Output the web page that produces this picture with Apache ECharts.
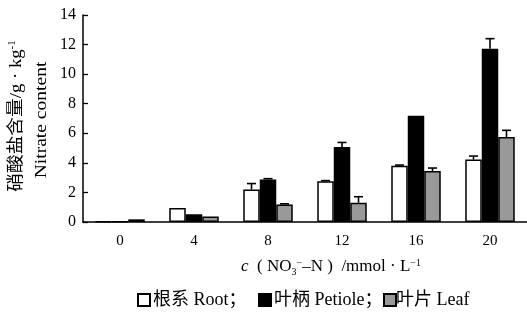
<!DOCTYPE html>
<html><head><meta charset="utf-8">
<script src="https://cdn.jsdelivr.net/npm/echarts@6/dist/echarts.min.js"></script>
<style>html,body{margin:0;padding:0;background:#fff}#c{width:527px;height:326px}</style>
</head><body><div id="c"></div>
<script>
const categories = ['0','4','8','12','16','20'];
const rootVals = [0.03, 0.95, 2.2, 2.75, 3.8, 4.22];
const petioleVals = [0.03, 0.52, 2.88, 5.08, 7.18, 11.72];
const leafVals = [0.18, 0.38, 1.18, 1.3, 3.45, 5.75];
const rootErr = [0, 0, 0.4, 0.05, 0.05, 0.24];
const petioleErr = [0, 0, 0.05, 0.3, 0, 0.68];
const leafErr = [0, 0, 0.05, 0.41, 0.2, 0.45];
const yTicks = [0, 2, 4, 6, 8, 10, 12, 14];
const legendNames = ['根系 Root；', '叶柄 Petiole；', '叶片 Leaf'];

const FONT = '"Liberation Serif","Noto Sans CJK SC",serif';
const BW = 16.5;
const chart = echarts.init(document.getElementById('c'));

function errSeries(vals, errs, idx) {
  return {
    type: 'custom',
    silent: true,
    z: 5,
    data: vals.map((v, i) => [i, v, errs[i]]),
    renderItem: function (params, api) {
      const e = api.value(2);
      if (!e) return null;
      const base = api.coord([api.value(0), api.value(1)]);
      const top = api.coord([api.value(0), api.value(1) + e]);
      const x = base[0] + (idx - 1) * BW;
      const st = { stroke: '#000', lineWidth: 1.6 };
      return {
        type: 'group',
        children: [
          { type: 'line', shape: { x1: x, y1: base[1], x2: x, y2: top[1] }, style: st },
          { type: 'line', shape: { x1: x - 4.5, y1: top[1], x2: x + 4.5, y2: top[1] }, style: st }
        ]
      };
    }
  };
}

const barStyleBase = { borderColor: '#000', borderWidth: 1.5 };
const legendLefts = [132, 253, 378];
const legendPads = [[0, 0, 0, -2], [0, 0, 0, -2], [0, 0, 0, -5]];

chart.setOption({
  animation: false,
  grid: { left: 83, right: 0, top: 15, bottom: 104 },
  legend: legendNames.map((n, i) => ({
    top: 286,
    left: legendLefts[i],
    itemWidth: 12,
    itemHeight: 12,
    icon: 'rect',
    textStyle: { fontFamily: FONT, fontSize: 18, color: '#000', padding: legendPads[i] },
    data: [n]
  })),
  xAxis: {
    type: 'category',
    data: categories,
    axisLine: { lineStyle: { color: '#000', width: 1.5 } },
    axisTick: { inside: true, length: 5, lineStyle: { color: '#000', width: 1.3 } },
    axisLabel: { fontFamily: FONT, fontSize: 15, color: '#000', margin: 12 },
    name: '{i|c}{n|  ( NO}{sub|3}{sup|−}{n|–N )  /mmol · L}{sup|−1}',
    nameLocation: 'middle',
    nameGap: 35,
    nameTextStyle: {
      padding: [0, 0, 0, 52],
      rich: {
        i: { fontFamily: FONT, fontSize: 17, fontStyle: 'italic', color: '#000' },
        n: { fontFamily: FONT, fontSize: 17, color: '#000' },
        sub: { fontFamily: FONT, fontSize: 10, color: '#000', padding: [10, 0, 0, 0] },
        sup: { fontFamily: FONT, fontSize: 10, color: '#000', padding: [0, 0, 8, 0] }
      }
    }
  },
  yAxis: {
    type: 'value',
    min: 0, max: 14, interval: 2,
    axisLine: { show: true, lineStyle: { color: '#000', width: 1.5 } },
    axisTick: { show: true, inside: true, length: 5, lineStyle: { color: '#000', width: 1.3 } },
    splitLine: { show: false },
    axisLabel: {
      fontFamily: FONT, fontSize: 16, color: '#000', margin: 7,
      formatter: v => yTicks.includes(v) ? String(v) : ''
    }
  },
  graphic: [
    {
      type: 'text', x: 17, y: 116, rotation: Math.PI / 2, scaleX: 1.1,
      style: {
        text: '{c|硝酸盐含量}{n|/g · kg}{s|-1}',
        align: 'center', verticalAlign: 'middle',
        rich: {
          c: { fontFamily: FONT, fontSize: 17, color: '#000' },
          n: { fontFamily: FONT, fontSize: 17, color: '#000' },
          s: { fontFamily: FONT, fontSize: 10, color: '#000', padding: [0, 0, 9, 0] }
        }
      }
    },
    {
      type: 'text', x: 42, y: 120, rotation: Math.PI / 2, scaleX: 1.15,
      style: {
        text: 'Nitrate content', align: 'center', verticalAlign: 'middle',
        fontFamily: FONT, fontSize: 17, fill: '#000'
      }
    }
  ],
  series: [
    { name: legendNames[0], type: 'bar', data: rootVals, barWidth: BW, barGap: '0%',
      itemStyle: Object.assign({ color: '#fff' }, barStyleBase) },
    { name: legendNames[1], type: 'bar', data: petioleVals, barWidth: BW, barGap: '0%',
      itemStyle: Object.assign({ color: '#000' }, barStyleBase) },
    { name: legendNames[2], type: 'bar', data: leafVals, barWidth: BW, barGap: '0%',
      itemStyle: Object.assign({ color: '#999' }, barStyleBase) },
    errSeries(rootVals, rootErr, 0),
    errSeries(petioleVals, petioleErr, 1),
    errSeries(leafVals, leafErr, 2)
  ]
});
</script></body></html>
